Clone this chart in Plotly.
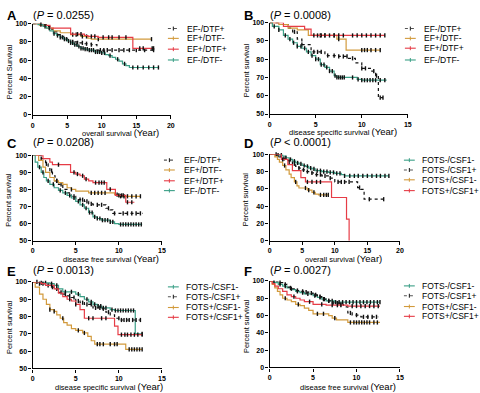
import plotly.graph_objects as go

W, H = 480, 393
TEAL = "#3a9f86"
ORANGE = "#d29a3c"
RED = "#e63c46"
BLACK = "#111111"

# ---------------- Panel A: overall survival ----------------
A_names = ["EF-/DTF+", "EF+/DTF-", "EF+/DTF+", "EF-/DTF-"]
A1_t = [0, 1.0, 2.0, 2.5, 3.0, 3.5, 4.0, 4.5, 5.0, 5.5, 6.5, 7.5, 8.5, 9.3, 17.5]
A1_s = [100, 99, 97, 94, 91, 88, 86, 84, 82, 80, 79, 78, 77, 71, 71]
A1_c = [5.8, 6.5, 7.2, 7.8, 8.5, 9.8, 10.3, 10.8, 11.5, 12.5, 13.2, 14.0, 15.0, 16.2, 17.5]
A2_t = [0, 1.0, 2.0, 3.0, 4.0, 5.5, 7.0, 8.0, 8.5, 17.2]
A2_s = [100, 98, 95, 92, 90, 88, 86, 84, 83, 83]
A2_c = [5.8, 6.3, 7.2, 7.8, 9.5, 17.2]
A3_t = [0, 1.5, 2.5, 5.5, 7.5, 8.0, 9.5, 14.5, 17.5]
A3_s = [100, 98, 95, 88.5, 87, 86, 85, 73, 73]
A3_c = [6.5, 7.0, 8.5, 9.0, 10.2, 11.0, 11.5, 12.5, 13.5, 15.5, 16.0, 17.3, 17.5]
A4_t = [0, 0.8, 1.5, 2.0, 2.5, 3.0, 3.5, 4.0, 4.5, 5.0, 5.5, 6.0, 6.5, 7.0, 7.5, 8.0, 9.0, 10.0, 10.5, 11.0, 11.5, 12.0, 12.5, 13.0, 13.5, 14.0, 18.3]
A4_s = [100, 99, 97, 95, 92, 89, 87, 85, 83, 81, 79, 77, 75, 73, 72, 71, 69, 68, 66, 65, 63, 61, 59, 56, 54, 52, 52]
A4_c = [1.2, 1.8, 2.4, 3.1, 3.6, 4.0, 4.3, 4.6, 4.9, 5.2, 5.5, 5.8, 6.1, 6.4, 6.7, 7.0, 7.3, 7.6, 7.9, 8.2, 8.5, 8.8, 9.1, 9.4, 9.7, 10.0, 10.4, 11.2, 12.3, 13.3, 14.5, 15.2, 16.0, 16.8, 17.5, 18.2]

# ---------------- Panel B: disease specific survival ----------------
B1_t = [0, 1.0, 2.0, 2.5, 3.0, 3.5, 4.5, 6.0, 7.5, 8.5, 9.3, 10.0, 11.0, 11.5, 11.8, 12.3]
B1_s = [100, 99, 97, 95, 91, 88, 84, 82, 81.5, 80.5, 78, 75, 73.5, 71, 59, 59]
B1_c = [2.7, 3.5, 4.8, 5.2, 5.6, 6.3, 7.0, 7.5, 8.0, 8.4, 9.0, 10.0, 10.4, 11.3, 11.6, 12.0, 12.3]
B2_t = [0, 1.0, 2.0, 3.0, 4.2, 7.3, 8.3, 12.0]
B2_s = [100, 99, 97, 96, 93, 91, 85, 85]
B2_c = [5.5, 6.0, 7.0, 7.5, 10.0, 10.3, 10.6, 11.0, 11.5, 12.0]
B3_t = [0, 1.5, 3.8, 4.5, 12.5]
B3_s = [100, 98, 96.5, 93, 93]
B3_c = [4.8, 5.2, 5.6, 6.0, 6.5, 7.0, 7.5, 8.0, 9.0, 9.5, 10.0, 10.5, 11.0, 11.5, 12.0, 12.5]
B4_t = [0, 0.3, 1.0, 1.5, 2.0, 2.5, 3.0, 3.5, 4.0, 4.5, 5.0, 5.5, 6.0, 6.5, 7.0, 7.3, 9.5, 10.0, 12.7]
B4_s = [100, 98, 96, 93, 91, 89, 87, 86, 84, 82, 80, 77, 75.5, 73.5, 71, 70, 69, 68.5, 68.5]
B4_c = [0.5, 1.0, 1.7, 2.2, 2.6, 3.0, 3.4, 3.8, 4.2, 4.6, 5.0, 5.3, 5.6, 5.9, 6.2, 6.5, 6.8, 7.1, 7.3, 7.5, 7.7, 7.9, 8.1, 9.0, 9.6, 10.0, 10.3, 10.6, 10.9, 11.2, 11.5, 12.0, 12.5]

# ---------------- Panel C: disease free survival ----------------
C1_t = [0, 1.0, 1.5, 1.8, 2.0, 2.3, 2.6, 3.0, 3.5, 4.0, 4.5, 5.0, 6.0, 6.5, 7.0, 8.5, 9.0, 9.3, 12.8]
C1_s = [100, 98, 95, 93, 91, 88, 85, 83, 80, 78, 76, 74, 73, 71.5, 71, 69, 68, 66, 66]
C1_c = [1.0, 1.6, 2.2, 2.8, 3.3, 4.8, 5.5, 5.8, 6.3, 6.8, 7.5, 8.0, 8.8, 9.5, 10.5, 11.0, 11.5, 12.0, 12.5]
C2_t = [0, 0.7, 1.2, 1.5, 2.0, 2.5, 3.0, 3.5, 4.0, 4.5, 5.0, 6.5, 9.5, 10.0, 12.5]
C2_s = [100, 97, 93, 90, 87, 85, 84, 83, 81, 80, 79, 78, 77, 76, 76]
C2_c = [2.8, 4.5, 6.8, 7.2, 7.6, 8.0, 8.4, 9.8, 10.2, 10.6, 11.0, 11.5, 12.0, 12.5]
C3_t = [0, 1.2, 2.0, 2.3, 4.4, 5.0, 5.5, 6.0, 6.5, 7.0, 8.6, 9.6, 10.8, 11.8]
C3_s = [100, 98, 96, 94.5, 90, 89, 88, 86, 85, 84, 80, 76.5, 72.5, 72.5]
C3_c = [3.0, 4.8, 5.2, 5.8, 6.2, 7.3, 7.7, 8.0, 8.3, 9.0, 10.0, 10.3, 10.5, 11.0, 11.5]
C4_t = [0, 0.3, 0.6, 1.0, 1.3, 1.6, 2.0, 2.5, 3.0, 3.5, 4.0, 4.5, 5.0, 5.5, 6.0, 6.5, 7.0, 7.5, 8.0, 9.0, 9.5, 10.0, 12.7]
C4_s = [100, 96, 93, 90, 87, 85, 83, 81, 79.5, 78, 76.5, 75, 73, 71, 69, 66.5, 64, 63, 62, 61, 60, 59.5, 59.5]
C4_c = [0.8, 1.2, 1.8, 2.4, 3.2, 3.8, 4.3, 4.8, 5.3, 5.8, 6.2, 6.6, 6.9, 7.2, 7.5, 7.8, 8.1, 8.4, 8.7, 9.0, 9.3, 10.2, 10.5, 10.8, 11.1, 11.4, 11.7, 12.0, 12.3, 12.6]

# ---------------- Panel D: overall survival ----------------
D_names = ["FOTS-/CSF1-", "FOTS-/CSF1+", "FOTS+/CSF1-", "FOTS+/CSF1+"]
D1_t = [0, 1.5, 2.0, 2.5, 3.0, 3.5, 4.0, 4.5, 5.0, 5.5, 6.0, 6.5, 7.0, 8.0, 9.0, 10.0, 11.0, 11.5, 18.3]
D1_s = [100, 99, 98, 96, 94, 92, 90, 89, 87, 86, 84, 83, 81, 80, 79, 78, 76.5, 75, 75]
D1_c = [1.0, 1.8, 2.5, 3.2, 3.8, 4.3, 4.8, 5.3, 5.8, 6.3, 6.8, 7.3, 7.8, 8.3, 8.8, 9.3, 9.8, 10.3, 10.8, 11.5, 12.3, 13.0, 13.6, 14.3, 15.0, 15.7, 16.4, 17.0, 17.7, 18.3]
D2_t = [0, 1.0, 1.5, 2.0, 2.5, 3.0, 3.5, 4.0, 4.5, 5.0, 5.5, 6.0, 7.0, 8.0, 9.0, 10.0, 13.5, 14.0, 14.5, 17.5]
D2_s = [100, 99, 97, 95, 93, 91, 89, 86, 84, 82, 80, 78.5, 76.5, 75, 72.5, 68, 61.5, 59.5, 48, 48]
D2_c = [1.3, 2.2, 3.0, 3.8, 4.5, 5.2, 5.8, 6.5, 7.2, 7.8, 8.5, 9.3, 10.5, 11.0, 11.5, 12.2, 13.8, 15.3, 17.5]
D3_t = [0, 0.8, 1.2, 1.5, 2.0, 2.5, 3.0, 3.3, 3.8, 4.2, 4.5, 5.8, 6.5, 7.0, 7.5, 9.0]
D3_s = [100, 97, 94, 91, 87, 82, 77, 73, 68, 63.5, 61, 58.5, 56, 54, 53, 53]
D3_c = [2.3, 4.0, 5.5, 6.0, 6.8, 7.8, 8.3, 8.7, 9.0]
D4_t = [0, 1.8, 2.8, 3.5, 4.8, 5.5, 9.5, 11.8, 12.2]
D4_s = [100, 94, 88, 81, 73, 68, 50, 25, 0]
D4_c = [2.0, 5.8, 6.5, 7.2, 7.8]

# ---------------- Panel E: disease specific survival ----------------
E1_t = [0, 1.0, 2.0, 2.5, 3.0, 3.5, 5.0, 5.5, 6.0, 6.5, 7.0, 7.5, 8.0, 9.0, 9.5, 11.9, 12.7]
E1_s = [100, 99.5, 99, 98, 96, 94.3, 93, 91.5, 90, 88.5, 87, 86, 85, 84, 83.5, 70, 70]
E1_c = [1.0, 1.5, 2.2, 2.8, 3.8, 4.5, 5.3, 6.3, 6.8, 7.2, 7.6, 7.9, 8.2, 8.5, 9.2, 9.6, 9.9, 10.2, 10.5, 10.8, 11.1, 11.4, 11.7, 12.7]
E2_t = [0, 0.8, 1.5, 2.0, 2.5, 3.0, 3.5, 4.0, 4.5, 5.0, 5.5, 6.0, 7.0, 8.0, 8.5, 9.0, 9.5, 10.2, 12.5]
E2_s = [100, 99, 98, 97, 96, 94, 93, 92, 91, 89, 88, 87, 85, 84.5, 82.5, 81, 79, 78, 78]
E2_c = [0.5, 0.8, 1.2, 1.8, 2.3, 2.8, 3.3, 3.8, 4.3, 4.8, 5.3, 5.8, 6.3, 6.8, 7.3, 7.8, 8.2, 8.8, 10.0, 10.3, 10.6, 10.9, 11.2, 11.6, 12.0, 12.5]
E3_t = [0, 0.3, 0.8, 1.2, 1.6, 2.0, 2.5, 2.8, 3.2, 3.6, 4.0, 4.5, 5.0, 5.8, 6.4, 6.8, 7.2, 10.8, 12.7]
E3_s = [100, 97, 93, 90, 87, 84, 83, 81, 79, 76.5, 75, 73, 72, 70.5, 68.5, 66, 64, 61, 61]
E3_c = [2.0, 2.5, 3.5, 5.3, 6.0, 7.5, 7.8, 8.2, 9.0, 9.5, 9.8, 11.2, 11.5, 11.8, 12.1, 12.4, 12.7]
E4_t = [0, 1.0, 1.5, 2.5, 3.0, 3.5, 4.0, 4.5, 5.0, 5.5, 6.0, 9.5, 9.9, 12.7]
E4_s = [100, 99, 98, 96, 93.5, 91.5, 90, 89, 87, 84, 79, 74.5, 69.5, 69.5]
E4_c = [2.2, 4.3, 5.0, 6.5, 7.0, 8.0, 8.5, 10.3, 10.7, 11.0, 11.4, 11.8, 12.2, 12.7]

# ---------------- Panel F: disease free survival ----------------
F1_t = [0, 0.5, 1.0, 1.5, 2.0, 2.5, 3.0, 3.5, 4.0, 5.0, 5.5, 6.0, 6.5, 7.5, 12.7]
F1_s = [100, 98, 96, 94, 92, 90, 88, 86.5, 85, 83, 81, 79, 77, 75.5, 75.5]
F1_c = [0.5, 1.2, 1.8, 2.4, 3.2, 3.8, 4.4, 5.2, 5.8, 6.2, 6.8, 7.2, 7.6, 8.0, 8.4, 8.8, 9.2, 9.6, 10.0, 10.4, 10.8, 11.2, 11.6, 12.0, 12.4, 12.7]
F2_t = [0, 1.0, 1.5, 2.0, 2.5, 3.0, 3.5, 4.0, 4.5, 5.0, 5.5, 6.0, 6.5, 7.0, 8.0, 8.5, 9.0, 9.5, 10.5, 12.5]
F2_s = [100, 98, 96, 93, 91, 89, 88, 87, 86, 84, 82, 79, 77, 74.5, 73, 70, 63, 60.5, 58.5, 58.5]
F2_c = [1.2, 1.8, 2.5, 3.2, 3.8, 4.2, 4.8, 5.3, 5.8, 6.3, 6.8, 7.3, 7.8, 8.2, 9.3, 10.0, 10.8, 11.3, 11.8, 12.3]
F3_t = [0, 0.3, 0.6, 0.9, 1.2, 1.5, 2.0, 2.5, 3.0, 3.5, 4.0, 4.5, 5.0, 6.8, 7.2, 7.7, 9.0, 12.7]
F3_s = [100, 96, 92, 88, 84, 80, 78, 76, 73, 71.5, 68.5, 66, 62, 60, 57, 55, 52, 52]
F3_c = [1.8, 3.3, 5.5, 6.2, 7.5, 9.3, 9.7, 10.0, 10.3, 10.6, 10.9, 11.2, 11.5, 12.0, 12.4]
F4_t = [0, 0.3, 0.6, 1.0, 1.5, 2.0, 2.5, 3.0, 3.5, 4.0, 5.0, 6.5, 9.0, 12.7]
F4_s = [100, 97, 94, 91, 88, 84, 82, 80, 78, 76, 73, 72, 71, 71]
F4_c = [2.8, 4.6, 6.0, 7.2, 7.8, 8.2, 9.5, 10.0, 10.5, 11.0, 11.5, 12.0, 12.5]

A_xticks = [0, 5, 10, 15, 20]
B_xticks = [0, 5, 10, 15]
Y_full = [0, 20, 40, 60, 80, 100]
Y_half = [50, 60, 70, 80, 90, 100]

EF_colors = [BLACK, ORANGE, RED, TEAL]
EF_dash = ["dot", "solid", "solid", "solid"]
FO_colors = [TEAL, BLACK, ORANGE, RED]
FO_dash = ["solid", "dot", "solid", "solid"]


def px_x(p):
    return p / W


def px_y(p):
    return 1 - p / H


panels = [
    dict(curves=[(A1_t, A1_s, A1_c), (A2_t, A2_s, A2_c), (A3_t, A3_s, A3_c), (A4_t, A4_s, A4_c)],
         names=A_names, colors=EF_colors, dash=EF_dash, xd=(31, 171), yd=(20, 113), xr=20, yr=(0, 100),
         xt=A_xticks, yt=Y_full, letter="A", ptxt="(<i>P</i> = 0.0255)", xlab="overall survival",
         ylab="Percent Survival", org=(0, 0), leg=(168, 185, [25, 35, 46, 57]), xtc=(120, 129)),
    dict(curves=[(B1_t, B1_s, B1_c), (B2_t, B2_s, B2_c), (B3_t, B3_s, B3_c), (B4_t, B4_s, B4_c)],
         names=A_names, colors=EF_colors, dash=EF_dash, xd=(271, 411), yd=(19, 112), xr=15, yr=(50, 100),
         xt=B_xticks, yt=Y_half, letter="B", ptxt="(<i>P</i> = 0.0008)", xlab="disease specific survival",
         ylab="Percent survival", org=(240, 0), leg=(408, 425, [25, 35, 45, 57]), xtc=(345, 128)),
    dict(curves=[(C1_t, C1_s, C1_c), (C2_t, C2_s, C2_c), (C3_t, C3_s, C3_c), (C4_t, C4_s, C4_c)],
         names=A_names, colors=EF_colors, dash=EF_dash, xd=(31, 162), yd=(154, 241), xr=15, yr=(50, 100),
         xt=B_xticks, yt=Y_half, letter="C", ptxt="(<i>P</i> = 0.0208)", xlab="disease free survival",
         ylab="Percent survival", org=(0, 130), leg=(164, 182, [159, 169, 180, 190]), xtc=(110, 257)),
    dict(curves=[(D1_t, D1_s, D1_c), (D2_t, D2_s, D2_c), (D3_t, D3_s, D3_c), (D4_t, D4_s, D4_c)],
         names=D_names, colors=FO_colors, dash=FO_dash, xd=(271, 403), yd=(153, 241), xr=20, yr=(0, 100),
         xt=A_xticks, yt=Y_full, letter="D", ptxt="(<i>P</i> < 0.0001)", xlab="overall survival",
         ylab="Percent survival", org=(240, 130), leg=(407, 423, [159, 169, 179, 190]), xtc=(346, 257)),
    dict(curves=[(E1_t, E1_s, E1_c), (E2_t, E2_s, E2_c), (E3_t, E3_s, E3_c), (E4_t, E4_s, E4_c)],
         names=D_names, colors=FO_colors, dash=FO_dash, xd=(31, 162), yd=(283, 371), xr=15, yr=(50, 100),
         xt=B_xticks, yt=Y_half, letter="E", ptxt="(<i>P</i> = 0.0013)", xlab="disease specific survival",
         ylab="Percent survival", org=(0, 260), leg=(168, 184, [288, 298, 309, 319]), xtc=(108, 387)),
    dict(curves=[(F1_t, F1_s, F1_c), (F2_t, F2_s, F2_c), (F3_t, F3_s, F3_c), (F4_t, F4_s, F4_c)],
         names=D_names, colors=FO_colors, dash=FO_dash, xd=(271, 403), yd=(282, 370), xr=15, yr=(0, 100),
         xt=B_xticks, yt=Y_full, letter="F", ptxt="(<i>P</i> = 0.0027)", xlab="disease free survival",
         ylab="Percent survival", org=(240, 260), leg=(407, 423, [287, 297, 308, 318]), xtc=(350, 387)),
]


def step_at(ts, ss, x):
    v = ss[0]
    for t, s in zip(ts, ss):
        if t <= x:
            v = s
    return v


fig = go.Figure()
annotations = []
shapes = []
FONT = "Liberation Sans, Arial, sans-serif"

for i, p in enumerate(panels):
    n = "" if i == 0 else str(i + 1)
    xa, ya = "x" + n, "y" + n
    for (ts, ss, cs), col, dsh in zip(p["curves"], p["colors"], p["dash"]):
        fig.add_trace(go.Scatter(x=ts, y=ss, mode="lines", line=dict(color=col, width=1.2, dash=dsh, shape="hv"),
                                 xaxis=xa, yaxis=ya, showlegend=False, cliponaxis=False, hoverinfo="skip"))
        cy = [step_at(ts, ss, c) for c in cs]
        fig.add_trace(go.Scatter(x=cs, y=cy, mode="markers",
                                 marker=dict(symbol="line-ns", size=3, line=dict(color=BLACK, width=1.4)),
                                 xaxis=xa, yaxis=ya, showlegend=False, cliponaxis=False, hoverinfo="skip"))
    axfont = dict(family=FONT, size=7, color="black", weight="bold")
    fig.layout["xaxis" + n] = dict(domain=[px_x(p["xd"][0]), px_x(p["xd"][1])], range=[0, p["xr"]],
                                   anchor=ya, tickvals=p["xt"], showline=True, linewidth=1.3, linecolor="black",
                                   ticks="outside", ticklen=3, tickwidth=1.2, tickcolor="black", showgrid=False,
                                   zeroline=False, tickfont=axfont)
    fig.layout["yaxis" + n] = dict(domain=[px_y(p["yd"][1]), px_y(p["yd"][0])], range=list(p["yr"]),
                                   anchor=xa, tickvals=p["yt"], showline=True, linewidth=1.3, linecolor="black",
                                   ticks="outside", ticklen=3, tickwidth=1.2, tickcolor="black", showgrid=False,
                                   zeroline=False, tickfont=axfont)
    ox, oy = p["org"]
    annotations.append(dict(x=px_x(ox + 3), y=px_y(oy + 12), xref="paper", yref="paper", text="<b>%s</b>" % p["letter"],
                            showarrow=False, xanchor="left", yanchor="middle",
                            font=dict(family=FONT, size=13, color="black")))
    annotations.append(dict(x=px_x(ox + 29), y=px_y(oy + 11), xref="paper", yref="paper", text=p["ptxt"],
                            showarrow=False, xanchor="left", yanchor="middle",
                            font=dict(family=FONT, size=11, color="black")))
    annotations.append(dict(x=px_x(p["xtc"][0]), y=px_y(p["xtc"][1] + 2), xref="paper", yref="paper",
                            text=p["xlab"] + " <span style='font-size:9.5px'>(Year)</span>",
                            showarrow=False, xanchor="center", yanchor="middle",
                            font=dict(family=FONT, size=7.5, color="black")))
    annotations.append(dict(x=px_x(ox + 7), y=px_y((p["yd"][0] + p["yd"][1]) / 2 + 2), xref="paper", yref="paper",
                            text=p["ylab"], textangle=-90, showarrow=False, xanchor="center", yanchor="middle",
                            font=dict(family=FONT, size=7.5, color="black")))
    lx0, tx, rows = p["leg"]
    for name, col, dsh, ry in zip(p["names"], p["colors"], p["dash"], rows):
        shapes.append(dict(type="line", xref="paper", yref="paper", x0=px_x(lx0), x1=px_x(lx0 + 11),
                           y0=px_y(ry), y1=px_y(ry),
                           line=dict(color=col if dsh == "solid" else "#555555", width=1.1, dash=dsh)))
        shapes.append(dict(type="line", xref="paper", yref="paper", x0=px_x(lx0 + 5.5), x1=px_x(lx0 + 5.5),
                           y0=px_y(ry - 2), y1=px_y(ry + 2), line=dict(color=col, width=1)))
        annotations.append(dict(x=px_x(tx), y=px_y(ry), xref="paper", yref="paper", text=name, showarrow=False,
                                xanchor="left", yanchor="middle", font=dict(family=FONT, size=8.5, color="black")))

fig.update_layout(width=W, height=H, margin=dict(l=0, r=0, t=0, b=0), paper_bgcolor="white",
                  plot_bgcolor="white", annotations=annotations, shapes=shapes, showlegend=False)
fig.write_html("out.html")
